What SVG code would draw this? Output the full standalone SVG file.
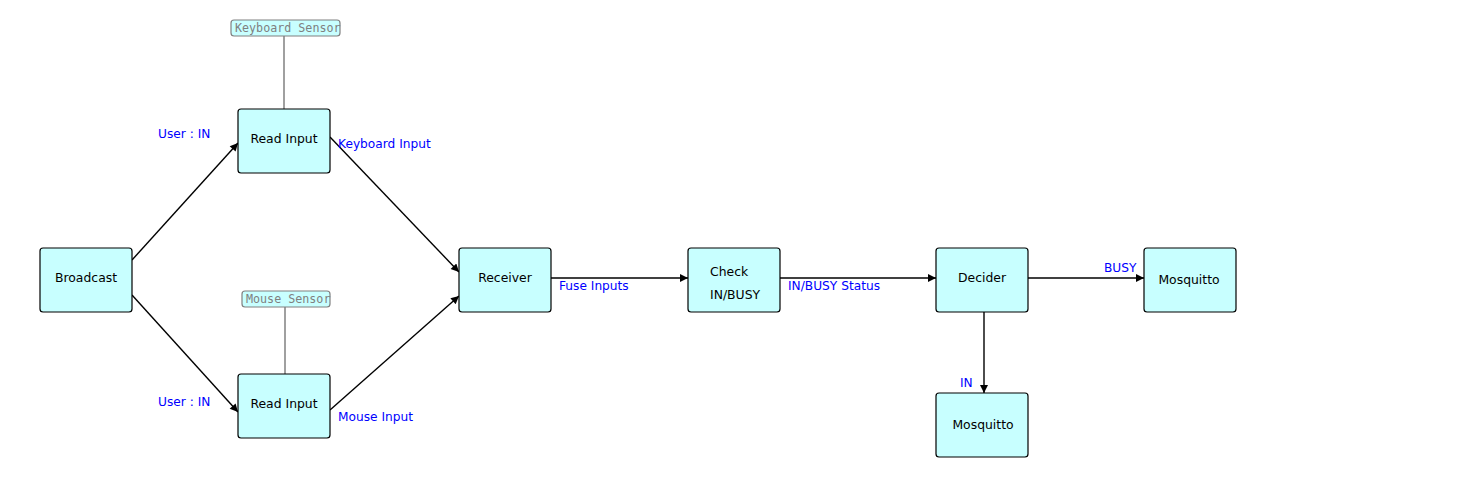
<svg xmlns="http://www.w3.org/2000/svg" width="1464" height="487" viewBox="0 0 1464 487">
<defs>
<marker id="ah" viewBox="0 0 10 10" refX="10" refY="5" markerWidth="10" markerHeight="8" markerUnits="userSpaceOnUse" orient="auto">
<path d="M0,0 L10,5 L0,10 z" fill="#000"/>
</marker>
<style>
.node rect{fill:#c8ffff;stroke:#000;stroke-width:1.2}
.node text{font-family:"DejaVu Sans",sans-serif;font-size:12.4px;fill:#000}
.edge{stroke:#000;stroke-width:1.4;fill:none;marker-end:url(#ah)}
.lbl{font-family:"DejaVu Sans",sans-serif;font-size:12.2px;fill:#0000ff}
.tag rect{fill:#c8ffff;stroke:#808080;stroke-width:1.2}
.tag text{font-family:"DejaVu Sans Mono",monospace;font-size:11.7px;fill:#808080}
.tagline{stroke:#808080;stroke-width:1.5}
</style>
</defs>
<rect width="1464" height="487" fill="#fff"/>
<g id="connectors">
<line class="tagline" x1="284" y1="36" x2="284" y2="109"/>
<line class="tagline" x1="285" y1="307" x2="285" y2="374"/>
<line class="edge" x1="132" y1="260" x2="238" y2="143"/>
<line class="edge" x1="132" y1="295" x2="238" y2="412"/>
<line class="edge" x1="330" y1="137" x2="459" y2="272"/>
<line class="edge" x1="330" y1="410" x2="459" y2="296"/>
<line class="edge" x1="551" y1="278" x2="688" y2="278"/>
<line class="edge" x1="780" y1="278" x2="936" y2="278"/>
<line class="edge" x1="1028" y1="278" x2="1144" y2="278"/>
<line class="edge" x1="984" y1="312" x2="984" y2="393"/>
<text class="lbl" x="158" y="138">User : IN</text>
<text class="lbl" x="338" y="148">Keyboard Input</text>
<text class="lbl" x="158" y="406">User : IN</text>
<text class="lbl" x="338" y="421">Mouse Input</text>
<text class="lbl" x="559" y="290">Fuse Inputs</text>
<text class="lbl" x="788" y="290">IN/BUSY Status</text>
<text class="lbl" x="1104" y="272">BUSY</text>
<text class="lbl" x="960" y="387">IN</text>
</g>
<g id="keyboard-sensor" class="tag">
<rect x="231" y="20" width="109" height="16" rx="3"/>
<text x="235" y="32">Keyboard Sensor</text>
</g>
<g id="mouse-sensor" class="tag">
<rect x="242" y="291" width="88" height="16" rx="3"/>
<text x="246" y="303">Mouse Sensor</text>
</g>
<g id="broadcast" class="node">
<rect x="40" y="248" width="92" height="64" rx="3"/>
<text x="86" y="282" text-anchor="middle">Broadcast</text>
</g>
<g id="read-input-keyboard" class="node">
<rect x="238" y="109" width="92" height="64" rx="3"/>
<text x="284" y="143" text-anchor="middle">Read Input</text>
</g>
<g id="read-input-mouse" class="node">
<rect x="238" y="374" width="92" height="64" rx="3"/>
<text x="284" y="408" text-anchor="middle">Read Input</text>
</g>
<g id="receiver" class="node">
<rect x="459" y="248" width="92" height="64" rx="3"/>
<text x="505" y="282" text-anchor="middle">Receiver</text>
</g>
<g id="check" class="node">
<rect x="688" y="248" width="92" height="64" rx="3"/>
<text x="710" y="276">Check</text>
<text x="710" y="299">IN/BUSY</text>
</g>
<g id="decider" class="node">
<rect x="936" y="248" width="92" height="64" rx="3"/>
<text x="982" y="282" text-anchor="middle">Decider</text>
</g>
<g id="mosquitto-busy" class="node">
<rect x="1144" y="248" width="92" height="64" rx="3"/>
<text x="1189" y="284" text-anchor="middle">Mosquitto</text>
</g>
<g id="mosquitto-in" class="node">
<rect x="936" y="393" width="92" height="64" rx="3"/>
<text x="983" y="429" text-anchor="middle">Mosquitto</text>
</g>
</svg>
